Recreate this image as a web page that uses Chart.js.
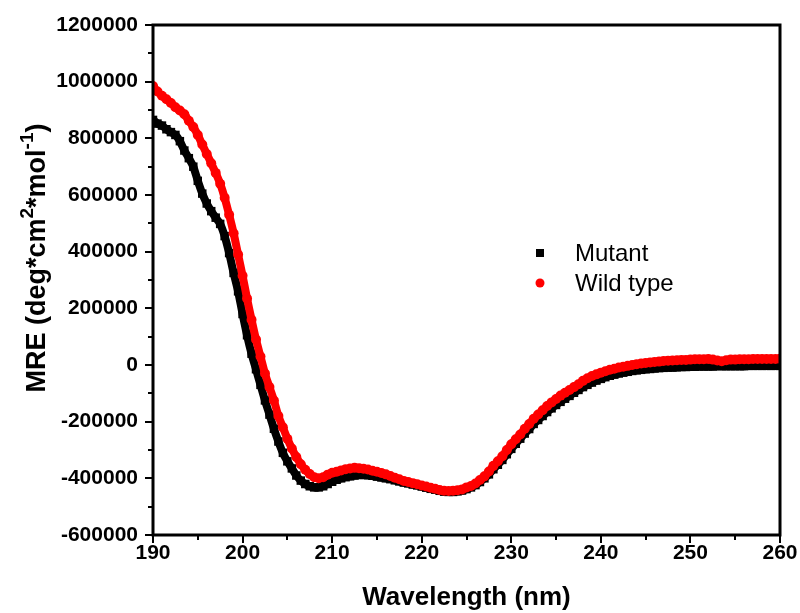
<!DOCTYPE html>
<html>
<head>
<meta charset="utf-8">
<script src="https://cdn.jsdelivr.net/npm/chart.js@4/dist/chart.umd.min.js"></script>
<style>
  html, body { margin: 0; padding: 0; background: #fff; }
  #wrap { width: 800px; height: 613px; }
</style>
</head>
<body>
<div id="wrap"><canvas id="cd" width="800" height="613"></canvas></div>
<script>
// CD spectra, wavelength step 0.5 nm from 190 to 260 nm
const wavelengthStart = 190;
const wavelengthStep = 0.5;

// Mean residue ellipticity, thousands of deg*cm2*mol-1
const wildTypeMRE = [
  985, 965, 950, 938, 925, 910, 898, 885, 862, 840,
  812, 778, 745, 712, 678, 640, 590, 530, 465, 390,
  315, 235, 160, 90, 30, -30, -78, -125, -180, -220,
  -260, -295, -325, -350, -370, -385, -396, -400, -396, -387,
  -380, -377, -372, -368, -365, -363, -364, -366, -369, -373,
  -377, -381, -386, -392, -398, -403, -409, -413, -417, -421,
  -425, -429, -433, -437, -441, -444, -445, -444, -442, -439,
  -432, -427, -418, -406, -393, -376, -356, -340, -322, -300,
  -280, -262, -245, -225, -208, -190, -175, -160, -145, -132,
  -120, -108, -98, -88, -78, -68, -56, -47, -39, -33,
  -27, -22, -17, -13, -9, -6, -3, 0, 3, 5,
  7, 9, 11, 12, 14, 15, 16, 17, 18, 18,
  19, 20, 20, 20, 21, 19, 16, 13, 17, 19,
  19, 20, 20, 20, 21, 21, 21, 21, 21, 21,
  22
];

const mutantMRE = [
  865, 852, 845, 832, 822, 812, 790, 757, 730, 700,
  650, 605, 570, 543, 520, 498, 455, 395, 325, 260,
  180, 105, 40, -15, -70, -125, -175, -225, -270, -310,
  -340, -365, -390, -408, -420, -428, -432, -432, -428, -420,
  -412, -405, -400, -396, -393, -390, -388, -388, -389, -391,
  -394, -397, -400, -403, -407, -411, -415, -418, -422, -425,
  -429, -433, -437, -440, -444, -447, -448, -448, -446, -443,
  -438, -432, -424, -413, -400, -386, -368, -352, -335, -315,
  -296, -278, -260, -242, -226, -208, -194, -180, -166, -153,
  -141, -130, -119, -109, -98, -88, -78, -70, -62, -55,
  -49, -43, -38, -34, -30, -27, -24, -21, -19, -17,
  -15, -14, -12, -11, -10, -9, -9, -8, -7, -7,
  -6, -6, -5, -5, -5, -5, -4, -4, -4, -4,
  -4, -4, -4, -3, -3, -3, -3, -3, -3, -3,
  -3
];

const xTickValues = [190, 200, 210, 220, 230, 240, 250, 260];
const yTickValues = [-600000, -400000, -200000, 0, 200000, 400000, 600000, 800000, 1000000, 1200000];
const seriesNames = ['Mutant', 'Wild type'];

const toPoints = arr => arr.map((v, i) => ({ x: wavelengthStart + i * wavelengthStep, y: v * 1000 }));

const FONT = '"Liberation Sans", Arial, Helvetica, sans-serif';

// Frame, tick marks, axis titles and legend
const decorations = {
  id: 'decorations',
  afterDraw(chart) {
    const { ctx, chartArea: a, scales: { x, y } } = chart;
    ctx.save();
    ctx.strokeStyle = '#000';
    ctx.lineWidth = 3;
    ctx.strokeRect(a.left, a.top, a.right - a.left, a.bottom - a.top);

    ctx.lineWidth = 2;
    ctx.beginPath();
    for (let v = yTickValues[0]; v <= yTickValues[yTickValues.length - 1]; v += 100000) {
      const py = Math.round(y.getPixelForValue(v));
      const len = (v % 200000 === 0) ? 8 : 5;
      ctx.moveTo(a.left - len, py);
      ctx.lineTo(a.left, py);
    }
    for (let v = xTickValues[0]; v <= xTickValues[xTickValues.length - 1]; v += 5) {
      const px = Math.round(x.getPixelForValue(v));
      const len = (v % 10 === 0) ? 8 : 5;
      ctx.moveTo(px, a.bottom);
      ctx.lineTo(px, a.bottom + len);
    }
    ctx.stroke();

    // x-axis title
    ctx.fillStyle = '#000';
    ctx.font = 'bold 26px ' + FONT;
    ctx.textAlign = 'center';
    ctx.textBaseline = 'middle';
    ctx.fillText('Wavelength (nm)', (a.left + a.right) / 2, 598);

    // y-axis title with superscripts
    const parts = [
      ['MRE (deg*cm', false], ['2', true], ['*mol', false], ['-1', true], [')', false]
    ];
    const big = 'bold 27px ' + FONT, small = 'bold 19px ' + FONT;
    let total = 0;
    parts.forEach(([t, sup]) => { ctx.font = sup ? small : big; total += ctx.measureText(t).width; });
    ctx.translate(45, 258);
    ctx.rotate(-Math.PI / 2);
    ctx.textAlign = 'left';
    ctx.textBaseline = 'alphabetic';
    let cx = -total / 2;
    parts.forEach(([t, sup]) => {
      ctx.font = sup ? small : big;
      ctx.fillText(t, cx, sup ? -12 : 0);
      cx += ctx.measureText(t).width;
    });
    ctx.restore();

    // legend
    ctx.save();
    ctx.fillStyle = '#000';
    ctx.fillRect(536, 249, 8, 8);
    ctx.fillStyle = '#ff0000';
    ctx.beginPath();
    ctx.arc(540, 283, 4.5, 0, Math.PI * 2);
    ctx.fill();
    ctx.fillStyle = '#000';
    ctx.font = '24px ' + FONT;
    ctx.textAlign = 'left';
    ctx.textBaseline = 'middle';
    ctx.fillText(seriesNames[0], 575, 254);
    ctx.fillText(seriesNames[1], 575, 284);
    ctx.restore();
  }
};

new Chart(document.getElementById('cd'), {
  type: 'scatter',
  data: {
    datasets: [
      {
        label: seriesNames[1],
        data: toPoints(wildTypeMRE),
        showLine: true,
        borderColor: '#ff0000',
        borderWidth: 8,
        backgroundColor: '#ff0000',
        pointStyle: 'circle',
        pointRadius: 5,
        pointBorderWidth: 0,
        tension: 0.3
      },
      {
        label: seriesNames[0],
        data: toPoints(mutantMRE),
        showLine: true,
        borderColor: '#000000',
        borderWidth: 8,
        backgroundColor: '#000000',
        pointStyle: 'rect',
        pointRadius: 6,
        pointBorderWidth: 0,
        tension: 0.3
      }
    ]
  },
  options: {
    responsive: false,
    animation: false,
    devicePixelRatio: 1,
    layout: { padding: { left: 0, top: 25, right: 20, bottom: 0 } },
    plugins: { legend: { display: false }, tooltip: { enabled: false } },
    scales: {
      x: {
        type: 'linear',
        min: 190,
        max: 260,
        afterBuildTicks: s => { s.ticks = xTickValues.map(v => ({ value: v })); },
        ticks: { color: '#000', font: { family: FONT, size: 21, weight: 'bold' }, padding: 6, maxRotation: 0 },
        grid: { display: false, drawTicks: false },
        border: { display: false },
        afterFit: s => { s.height = 78; s.paddingLeft = 0; s.paddingRight = 0; }
      },
      y: {
        type: 'linear',
        min: -600000,
        max: 1200000,
        afterBuildTicks: s => { s.ticks = yTickValues.map(v => ({ value: v })); },
        ticks: { color: '#000', font: { family: FONT, size: 21, weight: 'bold' }, padding: 15, callback: v => String(v) },
        grid: { display: false, drawTicks: false },
        border: { display: false },
        afterFit: s => { s.width = 153; s.paddingTop = 0; s.paddingBottom = 0; }
      }
    }
  },
  plugins: [decorations]
});
</script>
</body>
</html>
